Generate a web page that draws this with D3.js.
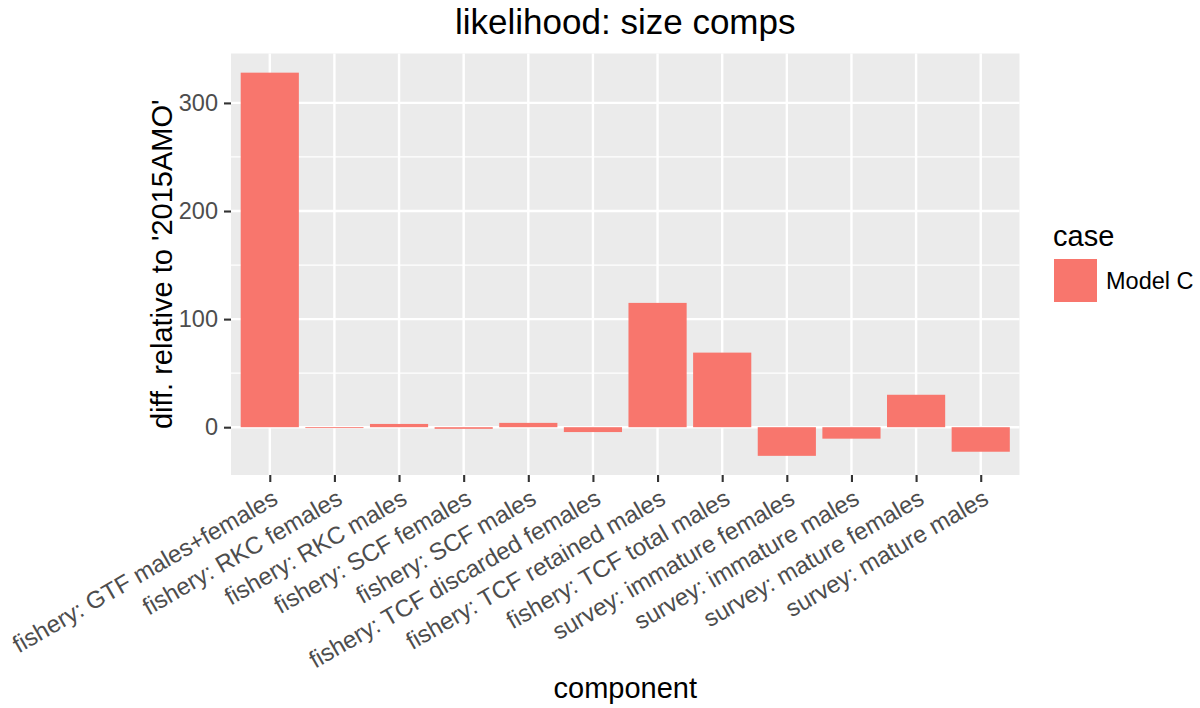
<!DOCTYPE html>
<html>
<head>
<meta charset="utf-8">
<script src="https://cdn.jsdelivr.net/npm/d3@7/dist/d3.min.js"></script>
<style>
  body { margin: 0; background: #fff; }
  text { font-family: "Liberation Sans", Arial, Helvetica, sans-serif; }
</style>
</head>
<body>
<svg id="chart" width="1200" height="708"></svg>
<script>
const categories = [
  "fishery: GTF males+females",
  "fishery: RKC females",
  "fishery: RKC males",
  "fishery: SCF females",
  "fishery: SCF males",
  "fishery: TCF discarded females",
  "fishery: TCF retained males",
  "fishery: TCF total males",
  "survey: immature females",
  "survey: immature males",
  "survey: mature females",
  "survey: mature males"
];
const values = [328, -0.8, 3, -1.5, 4, -4.5, 115, 69, -26.5, -10.6, 30, -22.7];
const yTicks = [0, 100, 200, 300];
const yMinor = [50, 150, 250];
const seriesName = "Model C";
const legendTitle = "case";

const svg = d3.select("#chart");
const panel = { left: 231, right: 1019.5, top: 53.5, bottom: 475 };
const fill = "#F8766D";
const fontFam = "'Liberation Sans', Arial, Helvetica, sans-serif";

// scales
const n = categories.length;
const x = d3.scaleLinear().domain([0.4, n + 0.6]).range([panel.left, panel.right]);
const yMinV = d3.min(values), yMaxV = d3.max(values);
const pad = (yMaxV - yMinV) * 0.05;
const y = d3.scaleLinear().domain([yMinV - pad, yMaxV + pad]).range([panel.bottom, panel.top]);

// panel background
svg.append("rect")
  .attr("x", panel.left).attr("y", panel.top)
  .attr("width", panel.right - panel.left).attr("height", panel.bottom - panel.top)
  .attr("fill", "#EBEBEB");

const grid = svg.append("g");
grid.selectAll("line.ymin").data(yMinor).enter().append("line")
  .attr("x1", panel.left).attr("x2", panel.right)
  .attr("y1", d => y(d)).attr("y2", d => y(d))
  .attr("stroke", "#fff").attr("stroke-width", 1.2);
grid.selectAll("line.ymaj").data(yTicks).enter().append("line")
  .attr("x1", panel.left).attr("x2", panel.right)
  .attr("y1", d => y(d)).attr("y2", d => y(d))
  .attr("stroke", "#fff").attr("stroke-width", 2.4);
grid.selectAll("line.xmaj").data(categories).enter().append("line")
  .attr("x1", (d, i) => x(i + 1)).attr("x2", (d, i) => x(i + 1))
  .attr("y1", panel.top).attr("y2", panel.bottom)
  .attr("stroke", "#fff").attr("stroke-width", 2.4);

// bars
const bw = (x(1.45) - x(1)) * 2;
svg.append("g").selectAll("rect").data(values).enter().append("rect")
  .attr("x", (d, i) => x(i + 1) - bw / 2)
  .attr("width", bw)
  .attr("y", d => y(Math.max(0, d)))
  .attr("height", d => Math.abs(y(d) - y(0)))
  .attr("fill", fill);

// y axis
const yAxis = d3.axisLeft(y).tickValues(yTicks).tickSize(7).tickPadding(6).tickFormat(d3.format("d"));
const gy = svg.append("g").attr("transform", `translate(${panel.left},0)`).call(yAxis);
gy.select(".domain").remove();
gy.selectAll(".tick line").attr("stroke", "#333").attr("stroke-width", 2.1);
gy.selectAll(".tick text").attr("fill", "#4D4D4D").style("font-size", "23.5px")
  .style("font-family", fontFam);

// x axis
const xAxis = d3.axisBottom(x).tickValues(d3.range(1, n + 1)).tickSize(7).tickFormat(d => categories[d - 1]);
const gx = svg.append("g").attr("transform", `translate(0,${panel.bottom})`).call(xAxis);
gx.select(".domain").remove();
gx.selectAll(".tick line").attr("stroke", "#333").attr("stroke-width", 2.1);
gx.selectAll(".tick text")
  .attr("fill", "#4D4D4D").style("font-size", "24px")
  .style("font-family", fontFam)
  .attr("text-anchor", "end")
  .attr("dy", null).attr("y", 0)
  .attr("transform", "translate(9,28) rotate(-30)");

// titles
svg.append("text").attr("x", (panel.left + panel.right) / 2).attr("y", 34)
  .attr("text-anchor", "middle").style("font-size", "35px").attr("fill", "#000")
  .text("likelihood: size comps");
svg.append("text").attr("x", (panel.left + panel.right) / 2).attr("y", 698)
  .attr("text-anchor", "middle").style("font-size", "29px").attr("fill", "#000")
  .text("component");
svg.append("text").attr("transform", `translate(172,${(panel.top + panel.bottom) / 2}) rotate(-90)`)
  .attr("text-anchor", "middle").style("font-size", "29px").attr("fill", "#000")
  .text("diff. relative to '2015AMO'");

// legend
svg.append("text").attr("x", 1053).attr("y", 246).style("font-size", "29px").attr("fill", "#000").text(legendTitle);
svg.append("rect").attr("x", 1054).attr("y", 259).attr("width", 43).attr("height", 43).attr("fill", fill);
svg.append("text").attr("x", 1106).attr("y", 289).style("font-size", "23.5px").attr("fill", "#000").text(seriesName);
</script>
</body>
</html>
